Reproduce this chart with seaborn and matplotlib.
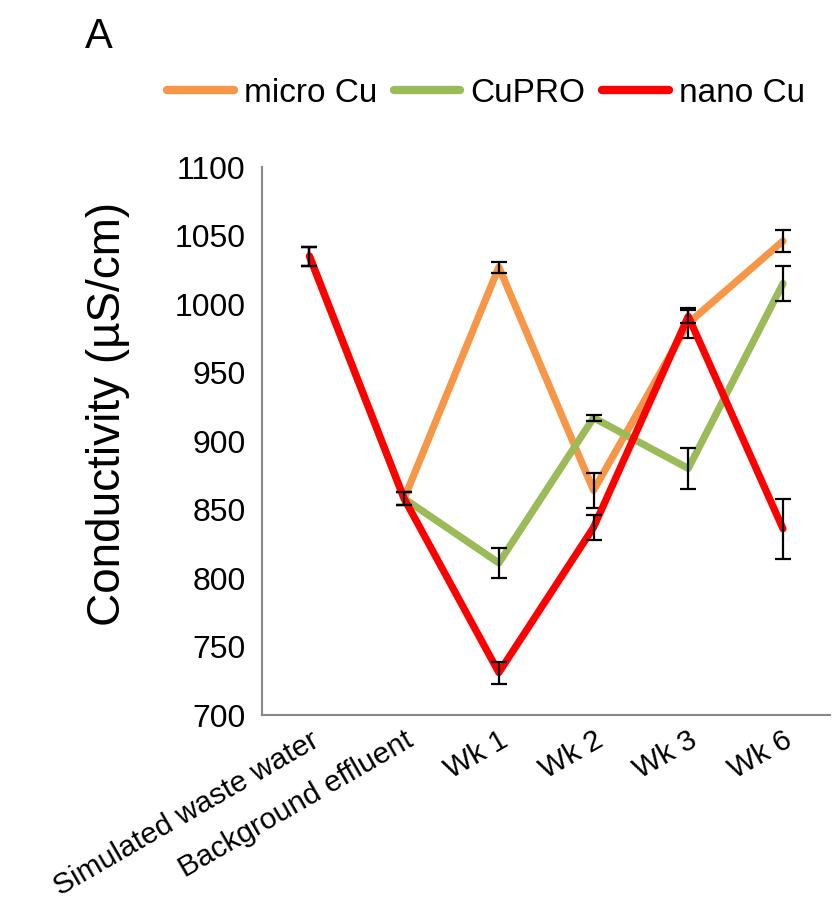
import matplotlib
matplotlib.use("Agg")
import matplotlib.pyplot as plt
import seaborn as sns
import pandas as pd
from matplotlib.lines import Line2D

categories = ["Simulated waste water", "Background effluent", "Wk 1", "Wk 2", "Wk 3", "Wk 6"]
series_names = ["micro Cu", "CuPRO", "nano Cu"]
micro_cu = [1035, 858, 1027, 864, 986, 1046]
micro_cu_err = [7, 5, 4, 13, 11, 8]
cupro = [1035, 858, 811, 917, 880, 1015]
cupro_err = [7, 5, 11, 2, 15, 13]
nano_cu = [1035, 858, 731, 837, 991, 836]
nano_cu_err = [7, 5, 8, 9, 5, 22]
y_ticks = [700, 750, 800, 850, 900, 950, 1000, 1050, 1100]

colors = {"micro Cu": "#F79646", "CuPRO": "#9BBB59", "nano Cu": "#FF0000"}

sns.set_style("white")
plt.rcParams["font.family"] = ["Liberation Sans", "DejaVu Sans"]
plt.rcParams["text.color"] = "black"
plt.rcParams["axes.labelcolor"] = "black"
plt.rcParams["xtick.labelcolor"] = "black"
plt.rcParams["ytick.labelcolor"] = "black"

values = {"micro Cu": micro_cu, "CuPRO": cupro, "nano Cu": nano_cu}
errors = {"micro Cu": micro_cu_err, "CuPRO": cupro_err, "nano Cu": nano_cu_err}

rows = []
for s in series_names:
    for i, (c, v) in enumerate(zip(categories, values[s])):
        rows.append({"Category": c, "x": i, "Series": s, "Value": v})
df = pd.DataFrame(rows)

fig = plt.figure(figsize=(8.32, 9.18), dpi=100)
ax = fig.add_axes([0.315, 0.2211, 0.683, 0.5969])

xpos = list(range(len(categories)))

for i, s in enumerate(series_names):
    sub = df[df["Series"] == s]
    sns.lineplot(data=sub, x="x", y="Value", color=colors[s], linewidth=5.2,
                 ax=ax, legend=False, zorder=2 + 2 * i, solid_capstyle="round")
    ax.errorbar(xpos, values[s], yerr=errors[s], fmt="none", ecolor="black",
                elinewidth=1.6, capsize=5.5, capthick=1.6, zorder=3 + 2 * i)

ax.set_xlim(-0.5, 5.5)
ax.set_ylim(700, 1100)
ax.set_yticks(y_ticks)
ax.set_yticklabels([str(t) for t in y_ticks], fontsize=23)
ax.set_xticks(xpos)
ax.set_xticklabels(categories, fontsize=21.5, rotation=30, ha="right",
                   rotation_mode="anchor")
ax.set_xlabel("")
ax.set_ylabel("Conductivity (µS/cm)", fontsize=33)
ax.yaxis.set_label_coords(-0.232, 0.55)

for side in ["top", "right"]:
    ax.spines[side].set_visible(False)
for side in ["left", "bottom"]:
    ax.spines[side].set_color("#888888")
    ax.spines[side].set_linewidth(1.5)
ax.tick_params(axis="both", direction="in", length=6, width=1.3, color="#888888")
ax.tick_params(axis="y", pad=12)
ax.tick_params(axis="x", pad=8)

handles = [Line2D([0], [0], color=colors[s], linewidth=6, solid_capstyle="round")
           for s in series_names]
fig.legend(handles, series_names, loc="center", bbox_to_anchor=(0.584, 0.898),
           ncol=3, frameon=False, fontsize=24, handlelength=2.0,
           handletextpad=0.3, columnspacing=0.5)

fig.text(0.102, 0.96, "A", fontsize=30, ha="left", va="center")

fig.savefig("out.png", dpi=100)
